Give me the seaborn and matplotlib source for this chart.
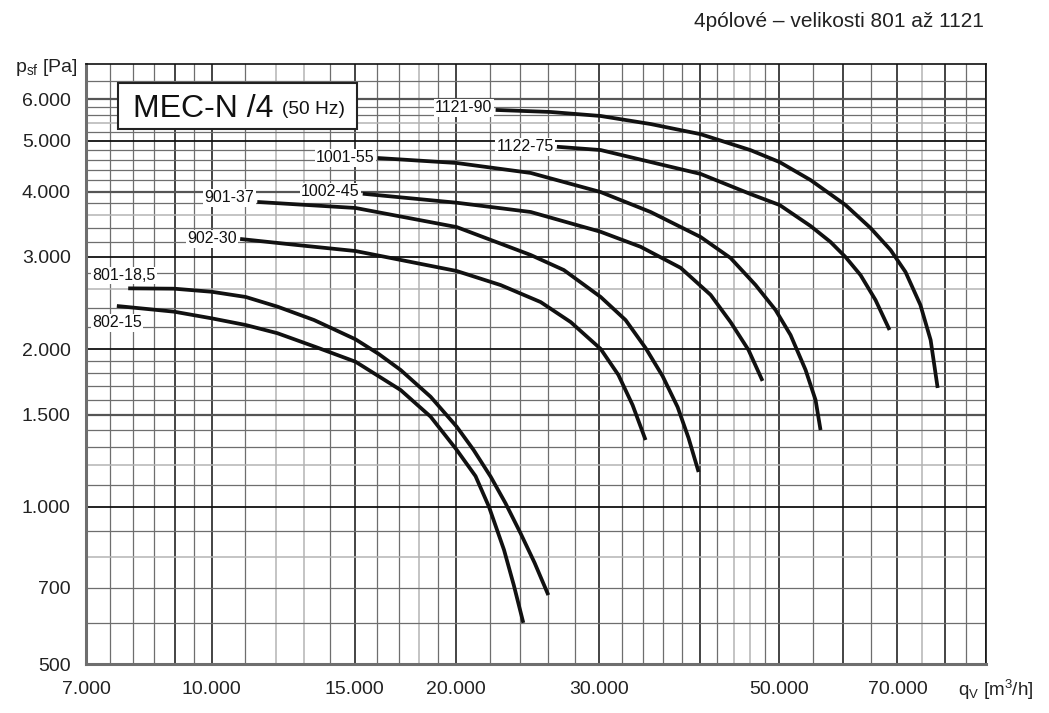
import numpy as np
import pandas as pd
import matplotlib.pyplot as plt
import seaborn as sns
from matplotlib.patches import Rectangle
from matplotlib.ticker import FixedLocator, NullFormatter

# fan curves: flow q_V [m3/h] vs. static pressure p_sf [Pa]
q_1121_90 = [22380, 26160, 30150, 34740, 40040, 46130, 50100, 54700, 60400, 64850, 68640, 71610, 74700, 76900, 78450]
p_1121_90 = [5727, 5676, 5577, 5383, 5148, 4799, 4553, 4207, 3770, 3407, 3093, 2808, 2429, 2082, 1686]

q_1122_75 = [26630, 30150, 34740, 40040, 46130, 50100, 54700, 57890, 60400, 63030, 65770, 68440]
p_1122_75 = [4871, 4801, 4555, 4322, 3956, 3770, 3437, 3204, 2999, 2770, 2482, 2176]

q_1001_55 = [16010, 20040, 24720, 30150, 34740, 40040, 43590, 46790, 49520, 51680, 53930, 55480, 56270]
p_1001_55 = [4636, 4535, 4341, 3991, 3656, 3275, 2986, 2652, 2376, 2128, 1825, 1599, 1401]

q_1002_45 = [15350, 20040, 24720, 30150, 33770, 37830, 41190, 43590, 45870, 47730]
p_1002_45 = [3962, 3808, 3656, 3351, 3137, 2860, 2539, 2253, 1992, 1739]

q_901_37 = [11380, 15040, 20040, 24720, 27160, 30150, 32360, 34250, 35940, 37510, 38690, 39810]
p_901_37 = [3821, 3721, 3421, 3026, 2832, 2516, 2273, 2010, 1777, 1550, 1353, 1165]

q_902_30 = [10840, 12730, 15040, 20040, 22700, 25430, 27690, 30150, 31710, 33010, 34250]
p_902_30 = [3247, 3162, 3079, 2820, 2651, 2460, 2253, 2002, 1785, 1564, 1341]

q_801_18 = [7890, 8990, 10000, 11010, 12050, 13370, 15040, 16060, 17090, 18610, 20040, 21020, 22070, 23020, 24020, 25000, 25990]
p_801_18 = [2613, 2609, 2574, 2516, 2411, 2273, 2088, 1958, 1825, 1622, 1422, 1284, 1141, 1015, 890, 781, 678]

q_802_15 = [7640, 8990, 10000, 11010, 12050, 13430, 15040, 17090, 18610, 20040, 21140, 21960, 22920, 23560, 24210]
p_802_15 = [2418, 2358, 2290, 2224, 2145, 2019, 1892, 1671, 1486, 1284, 1144, 1000, 827, 709, 600]

fans = ["1121-90", "1122-75", "1001-55", "1002-45", "901-37", "902-30", "801-18,5", "802-15"]
curves = [(q_1121_90, p_1121_90), (q_1122_75, p_1122_75), (q_1001_55, p_1001_55),
          (q_1002_45, p_1002_45), (q_901_37, p_901_37), (q_902_30, p_902_30),
          (q_801_18, p_801_18), (q_802_15, p_802_15)]

x_ticks = [7000, 10000, 15000, 20000, 30000, 50000, 70000]
x_tick_labels = ["7.000", "10.000", "15.000", "20.000", "30.000", "50.000", "70.000"]
y_ticks = [500, 700, 1000, 1500, 2000, 3000, 4000, 5000, 6000]
y_tick_labels = ["500", "700", "1.000", "1.500", "2.000", "3.000", "4.000", "5.000", "6.000"]

# label placement (pixel offset from curve start, alignment)
label_pos = {
    "1121-90": (-3, 2, "right"), "1122-75": (-3, 0, "right"), "1001-55": (-3, 0, "right"),
    "1002-45": (-3, 2, "right"), "901-37": (-3, 4, "right"), "902-30": (-3, 0, "right"),
    "801-18,5": (-36, 13, "left"), "802-15": (-25, -17, "left"),
}

rows = []
for name, (q, p) in zip(fans, curves):
    for a, b in zip(q, p):
        rows.append({"fan": name, "q": a, "p": b})
df = pd.DataFrame(rows)

sns.set_style("white")
plt.rcParams["font.family"] = ["Liberation Sans", "DejaVu Sans"]
plt.rcParams["mathtext.default"] = "regular"

fig = plt.figure(figsize=(10.49, 7.13), dpi=100)
ax = fig.add_axes([0.082, 0.0683, 0.858, 0.8415])
ax.set_xscale("log")
ax.set_yscale("log")
ax.set_xlim(7000, 90000)
ax.set_ylim(500, 7000)

# the chart paper grid
x_grid = np.concatenate([np.arange(7500, 10000, 500), np.arange(10000, 20000, 1000),
                         np.arange(20000, 50000, 2000), np.arange(50000, 90001, 5000)])
y_grid = np.concatenate([np.arange(600, 2000, 100), np.arange(2000, 6001, 200), [6500]])
x_black = [9000, 10000, 15000, 20000, 30000, 40000, 50000, 60000, 70000, 80000, 90000]
x_light = [12000, 13000, 18000, 44000, 46000, 75000]
y_black = [1000, 2000, 3000, 5000]
y_dark = [1500, 4000, 6000]
y_light = [800, 1200, 2600, 3600, 5400]

for v in x_grid:
    if v in x_black:
        ax.axvline(v, color="#111111", lw=1.1, zorder=1)
    elif v in x_light:
        ax.axvline(v, color="#b4b4b4", lw=1.1, zorder=1)
    else:
        ax.axvline(v, color="#6e6e6e", lw=0.9, zorder=1)
for v in y_grid:
    if v in y_black:
        ax.axhline(v, color="#111111", lw=1.3, zorder=1)
    elif v in y_dark:
        ax.axhline(v, color="#555555", lw=1.6, zorder=1)
    elif v in y_light:
        ax.axhline(v, color="#b4b4b4", lw=1.1, zorder=1)
    else:
        ax.axhline(v, color="#6e6e6e", lw=0.9, zorder=1)

sns.lineplot(data=df, x="q", y="p", hue="fan", estimator=None, sort=False,
             palette=["#111111"] * len(fans), legend=False, lw=2.7, ax=ax, zorder=3,
             solid_joinstyle="round", solid_capstyle="butt")

for name, (q, p) in zip(fans, curves):
    dx, dy, ha = label_pos[name]
    ax.annotate(name, xy=(q[0], p[0]), xytext=(dx, dy), textcoords="offset pixels",
                ha=ha, va="center", fontsize=11.5, color="#111111", zorder=4,
                bbox=dict(boxstyle="square,pad=0.08", fc="white", ec="none"))

ax.xaxis.set_major_locator(FixedLocator(x_ticks))
ax.set_xticklabels(x_tick_labels)
ax.xaxis.set_minor_locator(FixedLocator(x_grid))
ax.xaxis.set_minor_formatter(NullFormatter())
ax.yaxis.set_major_locator(FixedLocator(y_ticks))
ax.set_yticklabels(y_tick_labels)
ax.yaxis.set_minor_locator(FixedLocator(y_grid))
ax.yaxis.set_minor_formatter(NullFormatter())
ax.tick_params(which="both", direction="out", length=7, width=1.2, color="#6e6e6e",
               labelsize=14, labelcolor="#222222")
ax.tick_params(axis="y", which="both", pad=4)
ax.tick_params(axis="x", which="both", pad=5)
ax.set_xlabel("")
ax.set_ylabel("")

for s in ["left", "bottom"]:
    ax.spines[s].set_color("#6e6e6e")
    ax.spines[s].set_linewidth(2.2)
for s in ["top", "right"]:
    ax.spines[s].set_color("#111111")
    ax.spines[s].set_linewidth(1.2)

# title box
ax.add_patch(Rectangle((0.0356, 0.893), 0.266, 0.076, transform=ax.transAxes,
                       fc="white", ec="#222222", lw=1.5, zorder=5))
ax.text(0.0519, 0.9117, "MEC-N /4", transform=ax.transAxes, fontsize=23,
        va="baseline", ha="left", color="#111111", zorder=6)
ax.text(0.2174, 0.917, "(50 Hz)", transform=ax.transAxes, fontsize=13.8,
        va="baseline", ha="left", color="#111111", zorder=6)

ax.text(-0.079, 0.988, r"p$_{sf}$ [Pa]", transform=ax.transAxes, fontsize=14,
        va="baseline", ha="left", color="#222222")
ax.text(0.969, -0.052, r"q$_{V}$ [m$^{3}$/h]", transform=ax.transAxes, fontsize=13.5,
        va="baseline", ha="left", color="#222222")
fig.text(0.6616, 0.9626, "4pólové – velikosti 801 až 1121", fontsize=15,
         va="baseline", ha="left", color="#222222")

fig.savefig("out.png", dpi=100)
